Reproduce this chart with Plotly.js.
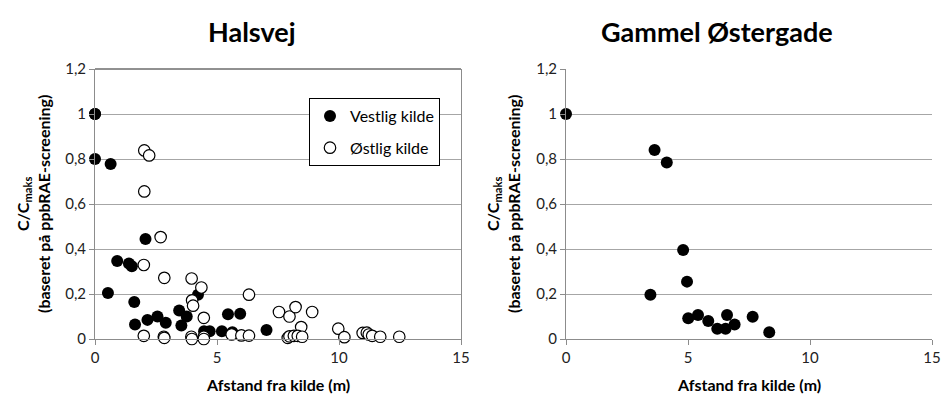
<!DOCTYPE html>
<html>
<head>
<meta charset="utf-8">
<script src="https://cdn.plot.ly/plotly-3.0.1.min.js"></script>
<style>html,body{margin:0;padding:0;background:#fff;}#chart{width:943px;height:397px;}</style>
</head>
<body>
<div id="chart"></div>
<script>
// Halsvej – Vestlig kilde (filled)
const halsVestX = [0, 0, 0, 0.64, 2.07, 0.91, 1.39, 1.51, 0.53, 1.61, 4.22, 3.45, 3.76, 1.64, 2.15, 2.56, 2.9, 3.54, 4.47, 4.7, 5.2, 5.45, 5.95, 5.63, 7.03];
const halsVestY = [1.0, 1.0, 0.8, 0.778, 0.444, 0.347, 0.336, 0.323, 0.204, 0.164, 0.197, 0.127, 0.1, 0.064, 0.085, 0.1, 0.072, 0.06, 0.034, 0.034, 0.034, 0.11, 0.112, 0.03, 0.04];
// Halsvej – Østlig kilde (open)
const halsOstX = [2.02, 2.22, 2.02, 2.69, 2.0, 2.84, 3.96, 4.36, 3.98, 4.02, 4.46, 2.0, 2.82, 2.84, 3.95, 3.97, 4.46, 4.46, 5.6, 6.0, 6.31, 6.31, 7.54, 7.97, 8.22, 8.9, 8.45, 7.9, 7.97, 8.15, 8.31, 8.49, 9.97, 10.22, 10.97, 11.14, 11.22, 11.36, 11.69, 12.47];
const halsOstY = [0.838, 0.816, 0.656, 0.453, 0.329, 0.272, 0.269, 0.229, 0.172, 0.148, 0.094, 0.014, 0.01, 0.005, 0.01, 0.0, 0.01, 0.0, 0.02, 0.016, 0.015, 0.197, 0.12, 0.1, 0.142, 0.12, 0.053, 0.005, 0.012, 0.014, 0.014, 0.01, 0.046, 0.008, 0.027, 0.028, 0.02, 0.014, 0.01, 0.01];
// Gammel Østergade
const gamX = [0, 3.63, 4.13, 4.8, 4.96, 3.46, 5.01, 5.41, 5.83, 6.2, 6.54, 6.6, 6.91, 7.65, 8.33];
const gamY = [1.0, 0.84, 0.784, 0.396, 0.255, 0.197, 0.092, 0.107, 0.08, 0.046, 0.046, 0.107, 0.064, 0.099, 0.03];

const titles = ['Halsvej', 'Gammel Østergade'];
const xTitle = 'Afstand fra kilde (m)';
const yTitle = 'C/C<sub>maks</sub><br>(baseret på ppbRAE-screening)';
const legendNames = ['Vestlig kilde', 'Østlig kilde'];

const W = 943;
const FONT = 'Lato, "Open Sans", sans-serif';

const traces = [
  {x: halsVestX, y: halsVestY, type: 'scatter', mode: 'markers', name: legendNames[0], legendgroup: 'a',
   marker: {color: '#000', size: 12, line: {width: 0}}, xaxis: 'x', yaxis: 'y', cliponaxis: false},
  {x: halsOstX, y: halsOstY, type: 'scatter', mode: 'markers', name: legendNames[1], legendgroup: 'b',
   marker: {color: '#fff', size: 11.5, line: {color: '#000', width: 1.2}}, xaxis: 'x', yaxis: 'y', cliponaxis: false},
  {x: gamX, y: gamY, type: 'scatter', mode: 'markers', showlegend: false,
   marker: {color: '#000', size: 12, line: {width: 0}}, xaxis: 'x2', yaxis: 'y2', cliponaxis: false}
];

function xax(domain, anchor) {
  return {domain: domain, anchor: anchor, range: [0, 15], dtick: 5, tick0: 0, showgrid: false, zeroline: false,
    showline: true, linecolor: '#8c8c8c', linewidth: 1, ticks: 'outside', ticklen: 5, tickcolor: '#8c8c8c',
    tickfont: {family: FONT, size: 15, color: '#222'}, fixedrange: true};
}
function yax(anchor, mirror) {
  return {domain: [0, 1], anchor: anchor, range: [0, 1.2], dtick: 0.2, tick0: 0, showgrid: true, gridcolor: '#a6a6a6',
    gridwidth: 1, zeroline: false, showline: true, linecolor: '#8c8c8c', linewidth: 1, mirror: mirror,
    ticks: 'outside', ticklen: 5, tickcolor: '#8c8c8c',
    tickfont: {family: FONT, size: 15, color: '#222'}, fixedrange: true};
}

const px = v => v / W;
const annotations = [
  {text: '<b>' + titles[0] + '</b>', xref: 'paper', yref: 'paper', x: px(252), y: (339 - 32) / 270, showarrow: false,
   xanchor: 'center', yanchor: 'middle', font: {family: FONT, size: 27, color: '#000'}},
  {text: '<b>' + titles[1] + '</b>', xref: 'paper', yref: 'paper', x: px(717), y: (339 - 32) / 270, showarrow: false,
   xanchor: 'center', yanchor: 'middle', font: {family: FONT, size: 27, color: '#000'}},
  {text: '<b>' + xTitle + '</b>', xref: 'paper', yref: 'paper', x: px(278), y: (339 - 384) / 270, showarrow: false,
   xanchor: 'center', yanchor: 'middle', font: {family: FONT, size: 16, color: '#000'}},
  {text: '<b>' + xTitle + '</b>', xref: 'paper', yref: 'paper', x: px(749), y: (339 - 384) / 270, showarrow: false,
   xanchor: 'center', yanchor: 'middle', font: {family: FONT, size: 16, color: '#000'}},
  {text: '<b>' + yTitle + '</b>', xref: 'paper', yref: 'paper', x: px(33), y: (339 - 204) / 270, showarrow: false,
   textangle: -90, xanchor: 'center', yanchor: 'middle', font: {family: FONT, size: 16, color: '#000'}},
  {text: '<b>' + yTitle + '</b>', xref: 'paper', yref: 'paper', x: px(503), y: (339 - 204) / 270, showarrow: false,
   textangle: -90, xanchor: 'center', yanchor: 'middle', font: {family: FONT, size: 16, color: '#000'}}
];

const layout = {
  width: 943, height: 397,
  margin: {l: 0, r: 0, t: 69, b: 58},
  paper_bgcolor: '#fff', plot_bgcolor: '#fff',
  separators: ',.',
  font: {family: FONT, color: '#000'},
  showlegend: true,
  legend: {x: px(309), y: (339 - 98) / 270, xanchor: 'left', yanchor: 'top', bgcolor: '#fff',
    bordercolor: '#000', borderwidth: 1, font: {family: FONT, size: 16, color: '#000'},
    tracegroupgap: 8, itemwidth: 30, itemclick: false, itemdoubleclick: false},
  xaxis: xax([px(95), px(461)], 'y'),
  yaxis: yax('x', true),
  xaxis2: xax([px(566), px(932)], 'y2'),
  yaxis2: yax('x2', false),
  annotations: annotations,
  shapes: [
    {type: 'line', xref: 'x domain', yref: 'y domain', x0: 0, x1: 1, y0: 1, y1: 1, line: {color: '#222', width: 1}}
  ]
};

Plotly.newPlot('chart', traces, layout, {displayModeBar: false, staticPlot: true});
</script>
</body>
</html>
